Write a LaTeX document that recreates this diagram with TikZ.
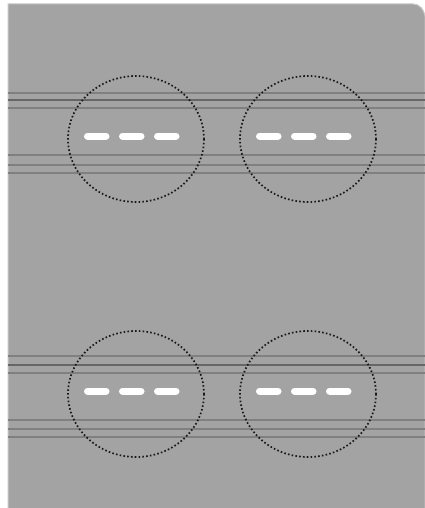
\documentclass[tikz,border=0pt]{standalone}
\begin{document}
\begin{tikzpicture}[x=1pt,y=-1pt,
  groove/.style={draw=black!50,line width=1.4pt},
  deepgroove/.style={draw=black!60,line width=2pt},
  zone/.style={draw=black!90,dash pattern=on 1.6pt off 2.2pt,line width=1.7pt},
  stripe/.style={draw=white,line width=7pt,line cap=round}]
\useasboundingbox (0,0) rectangle (425,508);
\fill[white] (0,0) rectangle (425,508);
% panel
\draw[fill=black!36,draw=black!22,line width=1pt]
  (8,508) -- (8,4) -- (413,4) to[out=0,in=100] (425,16) -- (425,508);
% groove groups
\foreach \y in {93,108,155,165,173,356,373,420,429,437}
  \draw[groove] (8,\y) -- (425,\y);
\foreach \y in {100,365}
  \draw[deepgroove] (8,\y) -- (425,\y);
% zones with stripes
\foreach \cx/\cy in {136/139,308/139,136/394,308/394}{
  \draw[zone] (\cx,\cy) ellipse[x radius=68,y radius=63];
  \foreach \dx in {-48.5,-13.5,21.5}
    \draw[stripe] (\cx+\dx,\cy-3) -- (\cx+\dx+18.5,\cy-3);
}
\end{tikzpicture}
\end{document}
